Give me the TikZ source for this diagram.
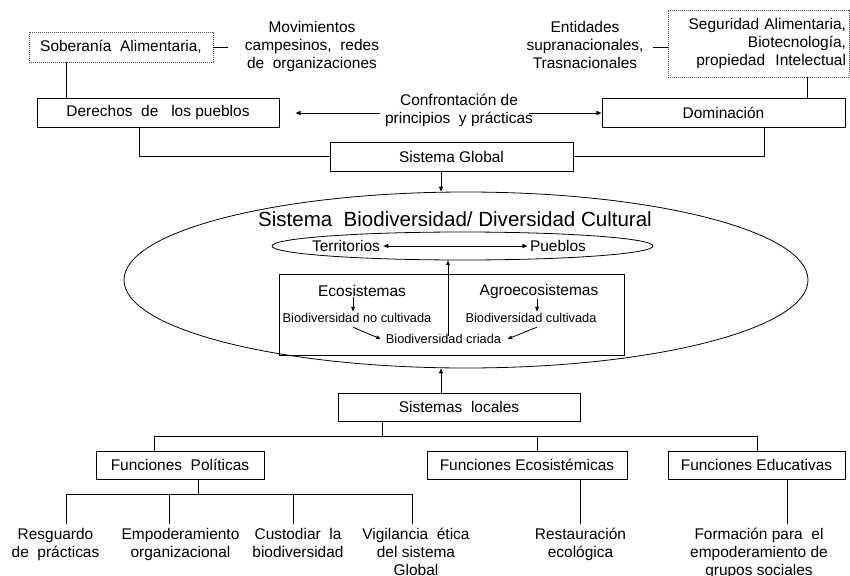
\documentclass[tikz,border=0pt]{standalone}
\usepackage{fontspec}
\setmainfont{Liberation Sans}
\usetikzlibrary{arrows.meta,calc,shapes.geometric}
\newcommand{\fsN}{\fontsize{11.6pt}{13.6pt}\selectfont}
\newcommand{\fsT}{\fontsize{15.4pt}{17pt}\selectfont}
\newcommand{\fsS}{\fontsize{9.6pt}{11pt}\selectfont}
\begin{document}
\begin{tikzpicture}[x=0.75pt,y=-0.75pt,
  line width=0.75pt,
  bx/.style 2 args={draw=black,minimum width=#1*0.75pt,minimum height=#2*0.75pt,inner sep=0pt,font=\fsN},
  dotbox/.style={draw=black!70,dash pattern=on 0.6pt off 0.9pt,line width=0.6pt},
  txt/.style={inner sep=0pt,align=center,font=\fsN},
  stxt/.style={inner sep=0pt,align=center,font=\fsS},
  ell/.style 2 args={draw=black,ellipse,inner sep=0pt,minimum width=#1*0.75pt,minimum height=#2*0.75pt,line width=0.6pt},
  lc/.style={draw=black},
  arr/.style={draw=black,-{Triangle[length=3.8pt,width=3pt]}},
  arrb/.style={draw=black,{Triangle[length=3.8pt,width=3pt]}-{Triangle[length=3.8pt,width=3pt]}},
  sarr/.style={draw=black,line width=0.6pt,-{Triangle[length=3.4pt,width=2.7pt]}}
]
\useasboundingbox (0,0) rectangle (850,575);

% coordinates for x positions
\coordinate (x66) at (66,0);
\coordinate (x139) at (139,0);
\coordinate (x441) at (441,0);
\coordinate (x764) at (764,0);
\coordinate (x807) at (807,0);
\coordinate (x448) at (448,0);
\coordinate (x353) at (353,0);
\coordinate (x537) at (537,0);
\coordinate (x382) at (382,0);
\coordinate (x154) at (154,0);
\coordinate (x757) at (757,0);
\coordinate (x198) at (198,0);
\coordinate (x169) at (169,0);
\coordinate (x293) at (293,0);
\coordinate (x412) at (412,0);
\coordinate (x580) at (580,0);
\coordinate (x787) at (787,0);
\coordinate (cy) at (0,113);
\coordinate (hy) at (0,436);
\coordinate (hy2) at (0,494);
\coordinate (ly) at (0,524);

% top
\node[bx={184}{30},dotbox,font=\fsN] (sob) at (121,47) {Soberanía\ \ Alimentaria,};
\node[txt] (mov) at (312,47) {Movimientos\strut\\campesinos,\ \ redes\strut\\de\ \ organizaciones\strut};
\node[txt] (ent) at (585,47) {Entidades\strut\\supranacionales,\strut\\Trasnacionales\strut};
\node[dotbox,minimum height=67*0.75pt,text width=175*0.75pt,inner xsep=2.25pt,inner ysep=0pt,align=right,font=\fsN] (seg) at (758.5,43.5) {Seguridad Alimentaria,\\Biotecnología,\\propiedad\ \ Intelectual};

\node[bx={242}{29}] (der) at (158,112.5) {Derechos\ \ de\ \ \ los pueblos};
\node[txt] (conf) at (459,111) {Confrontación de\strut\\principios\ \ y prácticas\strut};
\node[bx={243}{29}] (dom) at (723.5,112.5) {Dominación};
\node[bx={243}{29}] (sg) at (451.5,156.5) {Sistema Global};

% ellipse system
\node[ell={684}{176}] (big) at (466,280) {};
\node[inner sep=0pt,font=\fsT] (tit) at (455,219) {Sistema\ \ Biodiversidad/ Diversidad Cultural};
\node[ell={381}{28}] (sme) at (462.5,246) {};
\node[txt] (terr) at (346,246) {Territorios};
\node[txt] (pue) at (558,246) {Pueblos};
\node[bx={345}{81},line width=0.6pt] (inr) at (451.5,314.5) {};
\node[txt] (eco) at (362,291) {Ecosistemas};
\node[txt] (agro) at (539,291) {Agroecosistemas};
\node[stxt] (bnc) at (357,318) {Biodiversidad no cultivada};
\node[stxt] (bcu) at (531,318) {Biodiversidad cultivada};
\node[stxt] (bcr) at (443.5,339) {Biodiversidad criada};

% bottom
\node[bx={242}{28}] (sl) at (459,407) {Sistemas\ \ locales};
\node[bx={168}{28}] (fp) at (180,465) {Funciones\ \ Políticas};
\node[bx={200}{28}] (fe) at (527,465) {Funciones Ecosistémicas};
\node[bx={177}{28}] (fed) at (756.5,465) {Funciones Educativas};

\node[txt] (res) at (55.5,544.5) {Resguardo\strut\\de\ \ prácticas\strut};
\node[txt] (emp) at (180.5,544.5) {Empoderamiento\strut\\organizacional\strut};
\node[txt] (cus) at (298,544.5) {Custodiar\ \ la\strut\\biodiversidad\strut};
\node[txt] (vig) at (416,553.5) {Vigilancia\ \ ética\strut\\del sistema\strut\\Global\strut};
\node[txt] (rest) at (580.5,544.5) {Restauración\strut\\ecológica\strut};
\node[txt] (form) at (759,553.5) {Formación para\ \ el\strut\\empoderamiento de\strut\\grupos sociales\strut};

% top connectors
\draw[lc] (sob.east) -- ++(15,0);
\draw[lc] (sob.south -| x66) -- (der.north -| x66);
\draw[lc] (seg.west |- sob.east) -- ++(-15,0);
\draw[lc] (seg.south -| x807) -- (dom.north -| x807);
\draw[arr] ([xshift=-3.5pt]conf.west |- cy) -- ($(der.east |- cy)+(16,0)$);
\draw[arr] ([xshift=-3pt]conf.east |- cy) -- (dom.west |- cy);
\draw[lc] (der.south -| x139) |- (sg.west);
\draw[lc] (dom.south -| x764) |- (sg.east);
\draw[arr] (sg.south -| x441) -- (big.north -| x441);

% inner connectors
\draw[arrb] ([xshift=2.2pt]terr.east) -- ([xshift=-1.5pt]pue.west);
\draw[sarr] ([yshift=-1.5pt]bcr.north -| x448) -- (sme.south -| x448);
\draw[sarr] (eco.south -| x353) -- ([yshift=1pt]bnc.north -| x353);
\draw[sarr] (agro.south -| x537) -- ([yshift=1pt]bcu.north -| x537);
\draw[sarr] ([yshift=-3pt]bnc.south -| x353) -- ([xshift=-3.5pt]bcr.west);
\draw[sarr] ([yshift=-3pt]bcu.south -| x537) -- ([xshift=4.5pt]bcr.east);
\draw[arr] (sl.north -| x441) -- (big.south -| x441);

% bottom connectors
\draw[lc] (sl.south -| x382) -- (x382 |- hy);
\draw[lc] (fp.north -| x154) |- (x757 |- hy) -- (fed.north -| x757);
\draw[lc] (x537 |- hy) -- (fe.north -| x537);
\draw[lc] (fp.south -| x198) -- (x198 |- hy2);
\draw[lc] (x66 |- ly) |- (x412 |- hy2) -- (x412 |- ly);
\draw[lc] (x169 |- hy2) -- (x169 |- ly);
\draw[lc] (x293 |- hy2) -- (x293 |- ly);
\draw[lc] (fe.south -| x580) -- (x580 |- ly);
\draw[lc] (fed.south -| x787) -- (x787 |- ly);
\end{tikzpicture}
\end{document}
